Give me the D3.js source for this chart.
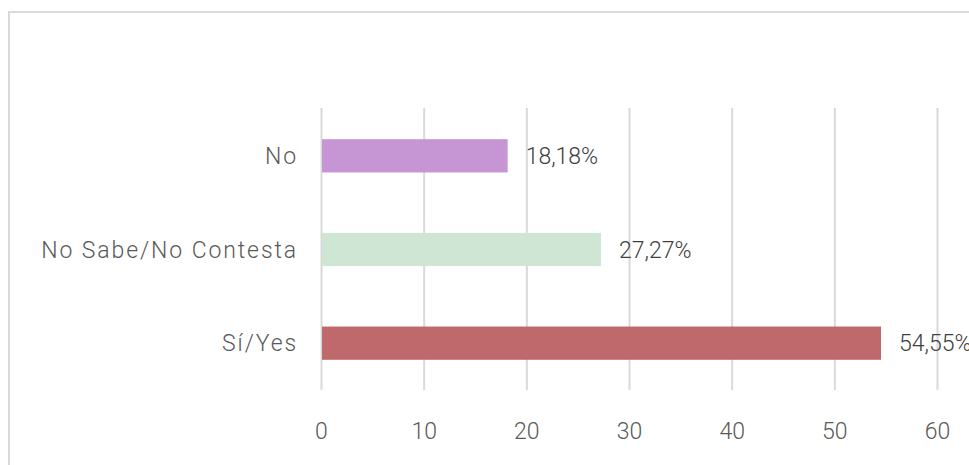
<!DOCTYPE html>
<html><head><meta charset="utf-8">
<script src="https://cdn.jsdelivr.net/npm/d3@7"></script>
<style>body{margin:0;background:#fff;} svg{display:block;}</style>
</head><body>
<script>
const categories = ["No", "No Sabe/No Contesta", "Sí/Yes"];
const values = [18.18, 27.27, 54.55];
const valueLabels = ["18,18%", "27,27%", "54,55%"];
const colors = ["#c595d4", "#cfe6d4", "#c0696d"];
const xTicks = [0, 10, 20, 30, 40, 50, 60];

const W = 969, H = 465;
const svg = d3.select("body").append("svg").attr("width", W).attr("height", H);
const font = "Roboto, 'DejaVu Sans', sans-serif";

svg.append("rect").attr("x", 9).attr("y", 12).attr("width", W).attr("height", H)
  .attr("fill", "#fff").attr("stroke", "#d9d9d9").attr("stroke-width", 2);

const x = d3.scaleLinear().domain([0, 60]).range([321, 937]);
const y = d3.scaleBand().domain(categories).range([109, 390]).paddingInner(0.645).paddingOuter(0.3225);

const grid = svg.append("g");
grid.selectAll("line").data(xTicks).join("line")
  .attr("x1", d => x(d) + 0.5).attr("x2", d => x(d) + 0.5)
  .attr("y1", 108).attr("y2", 390)
  .attr("stroke", "#d9d9d9").attr("stroke-width", 2);

svg.append("g").selectAll("rect").data(categories).join("rect")
  .attr("x", x(0) + 1).attr("y", d => y(d))
  .attr("width", (d, i) => x(values[i]) - x(0) - 1).attr("height", y.bandwidth())
  .attr("fill", (d, i) => colors[i]);

svg.append("g").selectAll("text").data(categories).join("text")
  .attr("x", (d, i) => x(values[i]) + 18).attr("y", d => y(d) + y.bandwidth() / 2)
  .attr("dy", "0.36em").attr("font-family", font).attr("font-size", 23).attr("font-weight", 300)
  .attr("fill", "#404040").text((d, i) => valueLabels[i]);

svg.append("g").selectAll("text").data(categories).join("text")
  .attr("x", 298).attr("y", d => y(d) + y.bandwidth() / 2)
  .attr("dy", "0.36em").attr("text-anchor", "end").attr("font-family", font).attr("font-size", 23)
  .attr("font-weight", 300).attr("letter-spacing", 1.9)
  .attr("fill", "#595959").text(d => d);

svg.append("g").selectAll("text").data(xTicks).join("text")
  .attr("x", d => x(d) + 0.5).attr("y", 431)
  .attr("dy", "0.36em").attr("text-anchor", "middle").attr("font-family", font).attr("font-size", 23)
  .attr("font-weight", 300)
  .attr("fill", "#595959").text(d => d);
</script>
</body></html>
